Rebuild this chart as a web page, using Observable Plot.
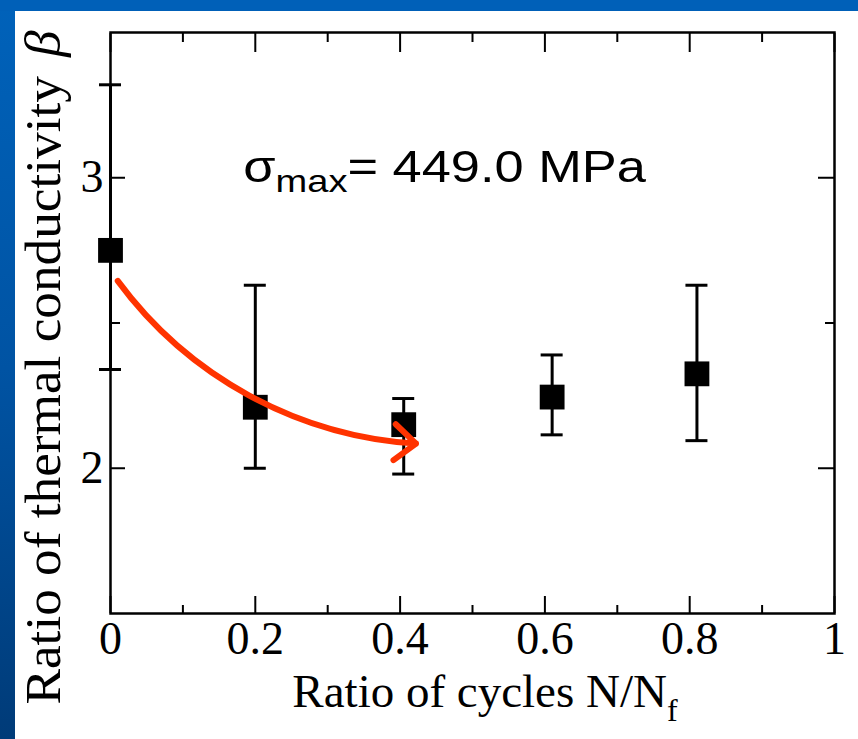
<!DOCTYPE html>
<html><head><meta charset="utf-8">
<script src="https://cdn.jsdelivr.net/npm/d3@7"></script>
<script src="https://cdn.jsdelivr.net/npm/@observablehq/plot@0.6"></script>
<style>
html,body{margin:0;padding:0;background:#fff;}
#wrap{position:relative;width:858px;height:739px;overflow:hidden;background:linear-gradient(to bottom,#0062BA 0%,#0053A3 50%,#003B78 100%);}
#topband{position:absolute;left:0;top:0;width:858px;height:11px;background:#0060B8;}
#paper{position:absolute;left:15px;top:11px;right:0;bottom:0;background:#fff;}
#chart{position:absolute;left:0;top:0;}
</style></head><body>
<div id="wrap"><div id="topband"></div><div id="paper"></div><div id="chart"></div></div>
<script>
// Data
const cycleRatio = [0, 0.2, 0.405, 0.61, 0.81];
const betaMean   = [2.75, 2.21, 2.15, 2.245, 2.325];
const betaUpper  = [3.32, 2.63, 2.24, 2.39, 2.63];
const betaLower  = [2.34, 2.0, 1.98, 2.115, 2.095];

// Axis ticks
const xMajorTicks = [0, 0.2, 0.4, 0.6, 0.8, 1];
const xMinorTicks = [0.1, 0.3, 0.5, 0.7, 0.9];
const yMajorTicks = [2, 3];
const yMinorTicks = [2.5];

// Annotations
const arrowPath = [{x1: 0.01, y1: 2.645, x2: 0.422, y2: 2.085}];
const stressLabel = {x: 0.184, y: 2.984, symbol: "σ", sub: "max", text: "= 449.0 MPa"};
const xTitle = {main: "Ratio of cycles N/N", sub: "f"};
const yTitle = {main: "Ratio of thermal conductivity", sym: "β"};

const points = cycleRatio.map((x, i) => ({x, y: betaMean[i], hi: betaUpper[i], lo: betaLower[i]}));
const serif = "'Liberation Serif', 'Times New Roman', serif";
const sans = "'Liberation Sans', Arial, sans-serif";

const W = 858, H = 739, mL = 110, mR = 24, mT = 32, mB = 126;

const tickAxis = (fn, ticks, anchor, size) =>
  fn(ticks, {anchor, tickSize: size, strokeWidth: 2, tickFormat: () => "", label: null});

const plot = Plot.plot({
  width: W, height: H,
  marginLeft: mL, marginRight: mR, marginTop: mT, marginBottom: mB,
  style: {background: "transparent", fontFamily: serif, color: "#000", overflow: "visible"},
  x: {domain: [0, 1]},
  y: {domain: [1.5, 3.5]},
  marks: [
    Plot.axisX(xMajorTicks, {anchor: "bottom", tickSize: 0, tickPadding: 8, tickFormat: d => String(d), fontSize: 46, label: null}),
    Plot.axisY(yMajorTicks, {anchor: "left", tickSize: 0, tickPadding: 7, tickFormat: d => String(d), fontSize: 46, label: null}),
    tickAxis(Plot.axisX, xMajorTicks, "bottom", -17),
    tickAxis(Plot.axisX, xMinorTicks, "bottom", -8),
    tickAxis(Plot.axisX, xMajorTicks, "top", -19),
    tickAxis(Plot.axisX, xMinorTicks, "top", -9),
    tickAxis(Plot.axisY, yMajorTicks, "left", -15),
    tickAxis(Plot.axisY, yMinorTicks, "left", -10),
    tickAxis(Plot.axisY, yMajorTicks, "right", -17),
    tickAxis(Plot.axisY, yMinorTicks, "right", -10),
    Plot.frame({strokeWidth: 2.5}),
    Plot.ruleX(points, {x: "x", y1: "lo", y2: "hi", strokeWidth: 3}),
    Plot.ruleY(points, {x1: "x", x2: "x", y: "hi", insetLeft: -11, insetRight: -11, strokeWidth: 3}),
    Plot.ruleY(points, {x1: "x", x2: "x", y: "lo", insetLeft: -11, insetRight: -11, strokeWidth: 3}),
    Plot.dot(points, {x: "x", y: "y", symbol: "square", r: 14, fill: "#000", stroke: null}),
    Plot.arrow(arrowPath, {x1: "x1", y1: "y1", x2: "x2", y2: "y2", stroke: "#FF3300", strokeWidth: 6, bend: -25, headAngle: 80, headLength: 7})
  ]
});

const svg = d3.select(plot);
const sx = plot.scale("x"), sy = plot.scale("y");

// σmax label (horizontally widened to match the reference lettering)
const t = svg.append("text")
  .attr("transform", `translate(${sx.apply(stressLabel.x)},${sy.apply(stressLabel.y)}) scale(1.19,1)`)
  .attr("text-anchor", "start")
  .attr("font-family", sans).attr("font-size", 44).attr("fill", "#000");
t.append("tspan").text(stressLabel.symbol);
t.append("tspan").attr("font-size", 32).attr("dy", 10).text(stressLabel.sub);
t.append("tspan").attr("dy", -10).text(stressLabel.text);

// x-axis title
const xt = svg.append("text")
  .attr("x", (mL + W - mR) / 2 + 13).attr("y", H - 32)
  .attr("text-anchor", "middle").attr("font-family", serif).attr("font-size", 47).attr("fill", "#000");
xt.append("tspan").text(xTitle.main);
xt.append("tspan").attr("font-size", 32).attr("dy", 14).text(xTitle.sub);

// y-axis title
const yt = svg.append("text")
  .attr("transform", `translate(60, ${(mT + H - mB) / 2 + 45}) rotate(-90) scale(1.065,1)`)
  .attr("text-anchor", "middle").attr("font-family", serif).attr("font-size", 50).attr("fill", "#000");
yt.append("tspan").text(yTitle.main);
yt.append("tspan").attr("dx", 18).attr("font-style", "italic").text(yTitle.sym);

document.getElementById("chart").appendChild(plot);
</script>
</body></html>
